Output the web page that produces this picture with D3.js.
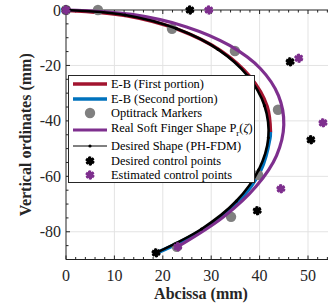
<!DOCTYPE html>
<html><head><meta charset="utf-8">
<script src="https://cdn.jsdelivr.net/npm/d3@7"></script>
<style>body{margin:0;background:#fff}svg{display:block}</style>
</head><body><svg id="c" width="328" height="305" font-family="'Liberation Serif', 'Times New Roman', Times, 'DejaVu Serif', serif"></svg>
<script>
// ---- data (mm) ----
const xTicks = [0, 10, 20, 30, 40, 50];
const yTicks = [0, -20, -40, -60, -80];
const ebFirstX = [0, 12.3, 23.0, 31.7, 37.8, 41.3, 42.0];
const ebFirstY = [0, -1.9, -6.9, -14.5, -24.0, -34.6, -44.0];
const ebSecondX = [42.0, 41.9, 40.0, 35.4, 28.1, 18.6];
const ebSecondY = [-44.0, -46.3, -57.9, -69.1, -79.2, -87.6];
const optiX = [0, 6.6, 21.9, 34.9, 43.8, 39.7, 34.1, 22.9];
const optiY = [0, 0, -6.8, -14.8, -36.0, -59.5, -74.6, -85.4];
const realX = [0, 13.6, 24.9, 33.8, 40.2, 43.9, 45.0, 43.5, 39.3, 32.5, 23.1];
const realY = [0, -1.6, -6.1, -12.8, -21.2, -30.9, -41.4, -52.5, -63.6, -74.7, -85.4];
const desX = [0, 12.2, 22.8, 31.4, 37.5, 41.0, 41.8, 39.8, 35.2, 28.0, 18.6];
const desY = [0, -1.8, -6.7, -14.2, -23.7, -34.5, -46.1, -57.7, -68.9, -79.0, -87.6];
const dcpX = [0, 25.6, 46.3, 50.6, 39.5, 18.6];
const dcpY = [0, 0, -18.7, -46.8, -72.4, -87.6];
const ecpX = [0, 29.5, 48.1, 53.1, 44.4, 23.1];
const ecpY = [0, 0, -17.4, -40.7, -64.5, -85.4];
const legendLabels = ["E-B (First portion)", "E-B (Second portion)", "Optitrack Markers",
  "Real Soft Finger Shape P", "Desired Shape (PH-FDM)", "Desired control points", "Estimated control points"];

const FONT = "'Liberation Serif', 'Times New Roman', Times, 'DejaVu Serif', serif";
const RED = "#A2142F", BLUE = "#0072BD", PURPLE = "#7E2F8E", GRAY = "#808080";
const svg = d3.select("#c");
const L = 66, T = 10, B = 259.5;
const x = d3.scaleLinear().domain([0, 55]).range([L, L + 55 * 4.84]);
const y = d3.scaleLinear().domain([-90, 0]).range([B, T]);
const R = x.range()[1];

// grid
const g = svg.append("g");
g.selectAll(".gx").data(xTicks.filter(d => d > 0)).enter().append("line")
  .attr("x1", d => x(d)).attr("x2", d => x(d)).attr("y1", T).attr("y2", B)
  .attr("stroke", "#e3e3e3").attr("stroke-width", 1);
g.selectAll(".gy").data(yTicks.filter(d => d < 0)).enter().append("line")
  .attr("x1", L).attr("x2", R).attr("y1", d => y(d)).attr("y2", d => y(d))
  .attr("stroke", "#e3e3e3").attr("stroke-width", 1);

// axes (ticks inside)
const minorX = d3.range(0, 56, 2), minorY = d3.range(-90, 1, 5);
const ax = svg.append("g");
ax.selectAll(".mxb").data(minorX).enter().append("line")
  .attr("x1", d => x(d)).attr("x2", d => x(d)).attr("y1", B).attr("y2", d => B - (d % 10 === 0 ? 4 : 2.5))
  .attr("stroke", "#222").attr("stroke-width", 1);
ax.selectAll(".mxt").data(minorX).enter().append("line")
  .attr("x1", d => x(d)).attr("x2", d => x(d)).attr("y1", T).attr("y2", d => T + (d % 10 === 0 ? 4 : 2.5))
  .attr("stroke", "#222").attr("stroke-width", 1);
ax.selectAll(".my").data(minorY).enter().append("line")
  .attr("x1", L).attr("x2", d => L + (d % 20 === 0 ? 4 : 2.5)).attr("y1", d => y(d)).attr("y2", d => y(d))
  .attr("stroke", "#222").attr("stroke-width", 1);
ax.append("line").attr("x1", L).attr("x2", R).attr("y1", B).attr("y2", B).attr("stroke", "#222");
ax.append("line").attr("x1", L).attr("x2", R).attr("y1", T).attr("y2", T).attr("stroke", "#222");
ax.append("line").attr("x1", L).attr("x2", L).attr("y1", T).attr("y2", B).attr("stroke", "#222");

ax.selectAll(".xl").data(xTicks).enter().append("text").attr("font-family", FONT)
  .attr("x", d => x(d)).attr("y", 281).attr("text-anchor", "middle")
  .attr("font-size", 16).attr("fill", "#262626").text(d => d);
ax.selectAll(".yl").data(yTicks).enter().append("text").attr("font-family", FONT)
  .attr("x", 61).attr("y", d => y(d) + 5.5).attr("text-anchor", "end")
  .attr("font-size", 16).attr("fill", "#262626").text(d => d);
svg.append("text").attr("font-family", FONT).attr("x", 201).attr("y", 299).attr("text-anchor", "middle")
  .attr("font-size", 16).attr("font-weight", "bold").attr("fill", "#262626").text("Abcissa (mm)");
svg.append("text").attr("font-family", FONT).attr("transform", `translate(31,${(T + B) / 2}) rotate(-90)`).attr("text-anchor", "middle")
  .attr("font-size", 16).attr("font-weight", "bold").attr("fill", "#262626").text("Vertical ordinates (mm)");

const pts = (xs, ys) => xs.map((v, i) => [v, ys[i]]);
const line = d3.line().x(d => x(d[0])).y(d => y(d[1])).curve(d3.curveCatmullRom.alpha(0.5));
const P = svg.append("g");
P.append("path").attr("d", line(pts(ebFirstX, ebFirstY).map(d => [d[0] + 0.25, d[1] - 0.15])))
  .attr("fill", "none").attr("stroke", RED).attr("stroke-width", 3.5);
P.append("path").attr("d", line(pts(ebSecondX, ebSecondY).map(d => [d[0] + 0.2, d[1]])))
  .attr("fill", "none").attr("stroke", BLUE).attr("stroke-width", 3.8);
P.selectAll(".op").data(pts(optiX, optiY)).enter().append("circle")
  .attr("cx", d => x(d[0])).attr("cy", d => y(d[1])).attr("r", 5.2).attr("fill", GRAY);
P.append("path").attr("d", line(pts(realX, realY)))
  .attr("fill", "none").attr("stroke", PURPLE).attr("stroke-width", 3.2);
P.append("path").attr("d", line(pts(desX, desY)))
  .attr("fill", "none").attr("stroke", "#000").attr("stroke-width", 2.6);
P.selectAll(".dd").data(pts(desX, desY)).enter().append("circle")
  .attr("cx", d => x(d[0])).attr("cy", d => y(d[1])).attr("r", 1.6).attr("fill", "#000");

const star = d3.symbol().type(d3.symbolAsterisk).size(55);
function drawStar(sel, cx, cy, col) {
  sel.append("circle").attr("cx", cx).attr("cy", cy).attr("r", 3.3).attr("fill", col);
  sel.append("path").attr("d", star()).attr("transform", `translate(${cx},${cy})`)
    .attr("fill", "none").attr("stroke", col).attr("stroke-width", 2.4);
  sel.append("path").attr("d", star()).attr("transform", `translate(${cx},${cy}) rotate(45)`)
    .attr("fill", "none").attr("stroke", col).attr("stroke-width", 2.0);
}
pts(dcpX, dcpY).forEach(d => drawStar(P, x(d[0]), y(d[1]), "#000"));
pts(ecpX, ecpY).forEach(d => drawStar(P, x(d[0]), y(d[1]), PURPLE));

// legend
const lg = svg.append("g");
lg.append("rect").attr("x", 68.5).attr("y", 75.5).attr("width", 186).attr("height", 107)
  .attr("fill", "#fff").attr("stroke", "#262626").attr("stroke-width", 1);
const rows = [84, 99, 113, 128, 146, 161, 175];
const lx1 = 73, lx2 = 107, lmx = 90, tx = 111;
lg.append("line").attr("x1", lx1).attr("x2", lx2).attr("y1", rows[0]).attr("y2", rows[0]).attr("stroke", RED).attr("stroke-width", 3.5);
lg.append("line").attr("x1", lx1).attr("x2", lx2).attr("y1", rows[1]).attr("y2", rows[1]).attr("stroke", BLUE).attr("stroke-width", 3.5);
lg.append("circle").attr("cx", lmx).attr("cy", rows[2]).attr("r", 5.2).attr("fill", GRAY);
lg.append("line").attr("x1", lx1).attr("x2", lx2).attr("y1", rows[3] + 2).attr("y2", rows[3] + 2).attr("stroke", PURPLE).attr("stroke-width", 3.2);
lg.append("line").attr("x1", lx1).attr("x2", lx2).attr("y1", rows[4]).attr("y2", rows[4]).attr("stroke", "#000").attr("stroke-width", 1);
lg.append("circle").attr("cx", lmx).attr("cy", rows[4]).attr("r", 1.6).attr("fill", "#000");
drawStar(lg, lmx, rows[5], "#000");
drawStar(lg, lmx, rows[6], PURPLE);
legendLabels.forEach((t, i) => {
  const te = lg.append("text").attr("font-family", FONT).attr("x", tx).attr("y", rows[i] + 4).attr("font-size", 12.4).attr("fill", "#000");
  te.append("tspan").text(t);
  if (i === 3) {
    te.append("tspan").attr("font-size", 9).attr("dy", 4).text("r");
    te.append("tspan").attr("dy", -4).text("(");
    te.append("tspan").attr("font-style", "italic").text("ζ");
    te.append("tspan").text(")");
  }
});
</script></body></html>
